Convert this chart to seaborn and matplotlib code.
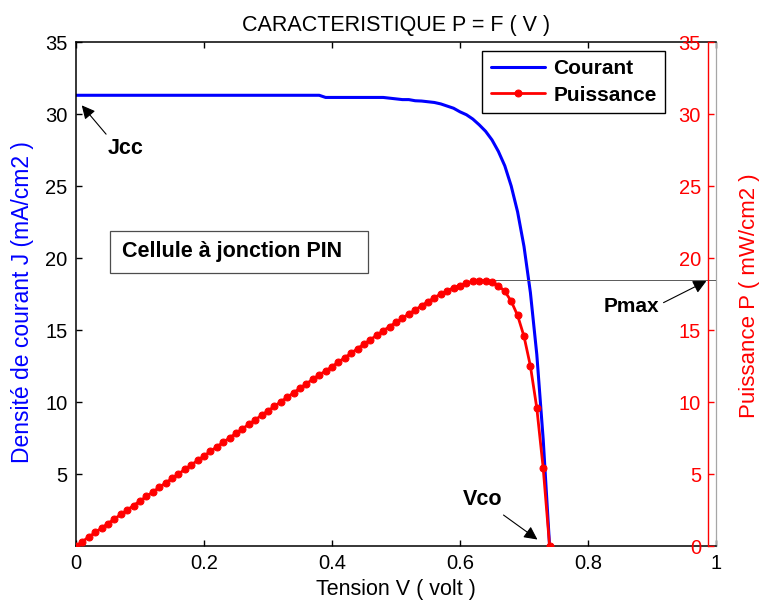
import numpy as np
import pandas as pd
import matplotlib
matplotlib.use("Agg")
import matplotlib.pyplot as plt
import seaborn as sns
from matplotlib.patches import Rectangle

# ---------------- data ----------------
tension = [0.00, 0.01, 0.02, 0.03, 0.04, 0.05, 0.06, 0.07, 0.08, 0.09,
           0.10, 0.11, 0.12, 0.13, 0.14, 0.15, 0.16, 0.17, 0.18, 0.19,
           0.20, 0.21, 0.22, 0.23, 0.24, 0.25, 0.26, 0.27, 0.28, 0.29,
           0.30, 0.31, 0.32, 0.33, 0.34, 0.35, 0.36, 0.37, 0.38, 0.39,
           0.40, 0.41, 0.42, 0.43, 0.44, 0.45, 0.46, 0.47, 0.48, 0.49,
           0.50, 0.51, 0.52, 0.53, 0.54, 0.55, 0.56, 0.57, 0.58, 0.59,
           0.60, 0.61, 0.62, 0.63, 0.64, 0.65, 0.66, 0.67, 0.68, 0.69,
           0.70, 0.71, 0.72, 0.73, 0.74]

courant = [31.3, 31.3, 31.3, 31.3, 31.3, 31.3, 31.3, 31.3, 31.3, 31.3,
           31.3, 31.3, 31.3, 31.3, 31.3, 31.3, 31.3, 31.3, 31.3, 31.3,
           31.3, 31.3, 31.3, 31.3, 31.3, 31.3, 31.3, 31.3, 31.3, 31.3,
           31.3, 31.3, 31.3, 31.3, 31.3, 31.3, 31.3, 31.3, 31.3, 31.15,
           31.15, 31.15, 31.15, 31.15, 31.15, 31.15, 31.15, 31.15, 31.15, 31.1,
           31.05, 31.0, 31.0, 30.92, 30.9, 30.85, 30.8, 30.7, 30.55, 30.4,
           30.15, 29.95, 29.65, 29.25, 28.8, 28.2, 27.4, 26.4, 25.0, 23.2,
           20.8, 17.6, 13.3, 7.4, 0.0]

puissance = [0.00, 0.31, 0.63, 0.94, 1.25, 1.56, 1.88, 2.19, 2.50, 2.81,
             3.13, 3.44, 3.75, 4.07, 4.38, 4.69, 5.00, 5.32, 5.63, 5.94,
             6.26, 6.57, 6.89, 7.20, 7.51, 7.83, 8.14, 8.45, 8.76, 9.08,
             9.39, 9.70, 10.02, 10.33, 10.64, 10.96, 11.27, 11.58, 11.89, 12.15,
             12.46, 12.77, 13.08, 13.39, 13.71, 14.02, 14.33, 14.64, 14.95, 15.24,
             15.53, 15.81, 16.12, 16.39, 16.69, 16.97, 17.25, 17.50, 17.72, 17.94,
             18.09, 18.27, 18.38, 18.43, 18.43, 18.33, 18.08, 17.69, 17.00, 16.01,
             14.56, 12.50, 9.58, 5.40, 0.00]

p_max = 18.5
v_at_pmax = 0.64

x_ticks = [0, 0.2, 0.4, 0.6, 0.8, 1]
x_tick_labels = ["0", "0.2", "0.4", "0.6", "0.8", "1"]
left_ticks = [5, 10, 15, 20, 25, 30, 35]
right_ticks = [0, 5, 10, 15, 20, 25, 30, 35]

df = pd.DataFrame({"V": tension, "J": courant, "P": puissance})

# ---------------- style ----------------
sns.set_theme(style="white")
plt.rcParams["font.family"] = ["Liberation Sans", "DejaVu Sans"]
plt.rcParams["text.color"] = "black"

W, H = 761, 608
fig = plt.figure(figsize=(W / 100, H / 100), dpi=100)
x0, x1, ytop, ybot = 76, 716, 42, 546
ax = fig.add_axes([x0 / W, 1 - ybot / H, (x1 - x0) / W, (ybot - ytop) / H])

sns.lineplot(data=df, x="V", y="J", ax=ax, color="#0000ff", lw=2.2,
             sort=False, estimator=None, label="Courant", legend=False)

ax.set_xlim(0, 1)
ax.set_ylim(0, 35)
ax.set_xticks(x_ticks)
ax.set_xticklabels(x_tick_labels)
ax.set_yticks(left_ticks)
ax.tick_params(axis="both", which="both", direction="in", length=4, width=1,
               colors="black", labelsize=14.5, top=True, bottom=True,
               left=True, right=False, pad=6)
for s in ["left", "bottom", "top"]:
    ax.spines[s].set_color("black")
    ax.spines[s].set_linewidth(1.1)
ax.spines["right"].set_color("0.65")
ax.spines["right"].set_linewidth(0.9)

ax.set_xlabel("Tension V ( volt )", fontsize=15.5, color="black")
ax.set_ylabel("Densité de courant J (mA/cm2 )", fontsize=16.5, color="#0000ff")
ax.yaxis.set_label_coords(-0.066, 0.484)
ax.xaxis.set_label_coords(0.5, -0.066)
ax.set_title("CARACTERISTIQUE P = F ( V )", fontsize=15.5, pad=8, color="black")

# ---------------- right axis (power) ----------------
ax2 = ax.twinx()
sns.lineplot(data=df, x="V", y="P", ax=ax2, color="#ff0000", lw=2.0,
             marker="o", markersize=5, markeredgecolor="#ff0000",
             sort=False, estimator=None, label="Puissance", legend=False)
ax2.set_ylim(0, 35)
ax2.set_yticks(right_ticks)
ax2.yaxis.set_ticks_position("left")
ax2.yaxis.set_label_position("right")
for s in ["right", "top", "bottom"]:
    ax2.spines[s].set_visible(False)
ax2.spines["left"].set_position(("axes", (708 - x0) / (x1 - x0)))
ax2.spines["left"].set_color("#ff0000")
ax2.spines["left"].set_linewidth(1.0)
ax2.tick_params(axis="y", direction="in", length=4, width=1,
                colors="#ff0000", labelcolor="#ff0000", labelsize=14.5, pad=5)
ax2.set_ylabel("Puissance P ( mW/cm2 )", fontsize=16, color="#ff0000")
ax2.yaxis.set_label_coords(1.036, 0.496)

# Pmax reference line
ax2.plot([v_at_pmax, 1.0], [p_max, p_max], color="0.35", lw=0.7, zorder=1)

# ---------------- legend ----------------
handles = [ax.lines[0], ax2.lines[0]]
leg = ax2.legend(handles, ["Courant", "Puissance"], loc="upper right",
                 bbox_to_anchor=((665 - x0) / (x1 - x0), (ybot - 51) / (ybot - ytop)),
                 prop={"weight": "bold", "size": 15}, frameon=True,
                 fancybox=False, framealpha=1, edgecolor="black",
                 handlelength=2.6, borderpad=0.4, labelspacing=0.35,
                 handletextpad=0.4, borderaxespad=0)
leg.get_frame().set_linewidth(1.0)

# ---------------- text box ----------------
ax2.add_patch(Rectangle((0.053, 18.95), 0.403, 2.95, fill=False,
                        edgecolor="0.3", lw=0.9, zorder=3))
ax2.text(0.072, 20.42, "Cellule à jonction PIN", fontsize=15.5,
         fontweight="bold", ha="left", va="center", color="black", zorder=4)

# ---------------- annotations ----------------
arrow_kw = dict(arrowstyle="-|>", color="black", lw=0.8, mutation_scale=20,
                shrinkA=0, shrinkB=0)
ax2.annotate("", xy=(0.009, 30.6), xytext=(0.047, 28.6), arrowprops=arrow_kw)
ax2.text(0.05, 27.6, "Jcc", fontsize=15.5, fontweight="bold", ha="left", va="center")

ax2.annotate("", xy=(0.985, 18.4), xytext=(0.918, 16.9), arrowprops=arrow_kw)
ax2.text(0.825, 16.6, "Pmax", fontsize=15, fontweight="bold", ha="left", va="center")

ax2.annotate("", xy=(0.721, 0.45), xytext=(0.668, 2.15), arrowprops=arrow_kw)
ax2.text(0.604, 3.2, "Vco", fontsize=15.5, fontweight="bold", ha="left", va="center")

fig.savefig("out.png", dpi=100, facecolor="white")
